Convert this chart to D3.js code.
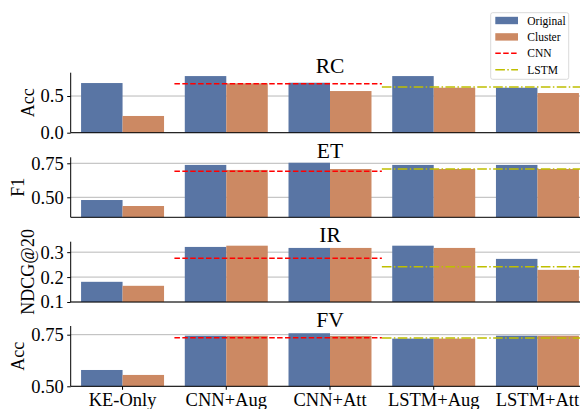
<!DOCTYPE html>
<html>
<head>
<meta charset="utf-8">
<script src="https://cdn.jsdelivr.net/npm/d3@7"></script>
<style>
  body { margin: 0; background: #fff; }
  svg { display: block; font-family: 'Liberation Serif', 'Times New Roman', serif; }
</style>
</head>
<body>
<div id="chart"></div>
<script>
/* global d3 */

const w = 580
const h = 409

const categories = ['KE-Only', 'CNN+Aug', 'CNN+Att', 'LSTM+Aug', 'LSTM+Att']
const seriesNames = ['Original', 'Cluster']
const baselineNames = ['CNN', 'LSTM']

const tasks = ['RC', 'ET', 'IR', 'FV']
const metrics = ['Acc', 'F1', 'NDCG@20', 'Acc']

const original = [
  [0.677, 0.772, 0.681, 0.772, 0.613],
  [0.480, 0.738, 0.754, 0.738, 0.738],
  [0.181, 0.321, 0.317, 0.326, 0.273],
  [0.579, 0.745, 0.757, 0.731, 0.745]
]
const cluster = [
  [0.228, 0.673, 0.568, 0.613, 0.541],
  [0.436, 0.701, 0.708, 0.708, 0.708],
  [0.165, 0.326, 0.317, 0.317, 0.229],
  [0.555, 0.745, 0.744, 0.731, 0.745]
]
const cnnBaseline = [0.668, 0.691, 0.276, 0.7355]
const lstmBaseline = [0.623, 0.708, 0.241, 0.734]

const yDomains = [[0, 0.818], [0.353, 0.794], [0.1, 0.342], [0.5, 0.792]]
const yTicks = [[0.0, 0.5], [0.50, 0.75], [0.1, 0.2, 0.3], [0.50, 0.75]]
const yFormats = ['.1f', '.2f', '.1f', '.2f']

const colors = ['#5975a4', '#cc8963']
const lineColors = ['#ff0000', '#bfbf00']
const lineDash = ['5.5,2.4', '9.6,2.4,1.5,2.4']

// panel layout (pixel tops / bottoms)
const panelTop = [72.7, 157.3, 241.7, 326]
const panelBottom = [132.7, 217.3, 302, 386.3]
const left = 70.7
const right = 589.3

const x = d3.scaleBand()
  .domain(categories)
  .range([left, right])
  .paddingInner(0.2)
  .paddingOuter(0.1)

const xSub = d3.scaleBand()
  .domain(seriesNames)
  .range([0, x.bandwidth()])

// continuous position for baselines (category index space)
const xPos = d3.scaleLinear()
  .domain([-0.5, categories.length - 0.5])
  .range([left, right])

const svg = d3.select('#chart').append('svg')
  .attr('width', w)
  .attr('height', h)

tasks.forEach((task, t) => {
  const y = d3.scaleLinear()
    .domain(yDomains[t])
    .range([panelBottom[t], panelTop[t]])

  const g = svg.append('g')

  // gridlines
  g.selectAll('line.grid')
    .data(yTicks[t])
    .enter().append('line')
    .attr('class', 'grid')
    .attr('x1', left)
    .attr('x2', right)
    .attr('y1', d => y(d))
    .attr('y2', d => y(d))
    .attr('stroke', '#b8b8b8')
    .attr('stroke-width', 1)

  // bars
  const rows = categories.map((c, i) => ({ c, vals: [original[t][i], cluster[t][i]] }))
  const groups = g.selectAll('g.grp')
    .data(rows)
    .enter().append('g')
    .attr('transform', d => `translate(${x(d.c)},0)`)

  groups.selectAll('rect')
    .data(d => d.vals.map((v, k) => ({ v, k })))
    .enter().append('rect')
    .attr('x', d => xSub(seriesNames[d.k]))
    .attr('width', xSub.bandwidth())
    .attr('y', d => y(d.v))
    .attr('height', d => y(yDomains[t][0]) - y(d.v))
    .attr('fill', d => colors[d.k])

  // baselines
  const baseSpans = [[0.5, 2.5], [2.5, 4.5]]
  const baseVals = [cnnBaseline[t], lstmBaseline[t]]
  baseSpans.forEach((span, b) => {
    g.append('line')
      .attr('x1', xPos(span[0]))
      .attr('x2', xPos(span[1]))
      .attr('y1', y(baseVals[b]))
      .attr('y2', y(baseVals[b]))
      .attr('stroke', lineColors[b])
      .attr('stroke-width', 1.5)
      .attr('stroke-dasharray', lineDash[b])
  })

  // y axis
  const yAxis = d3.axisLeft(y)
    .tickValues(yTicks[t])
    .tickFormat(d3.format(yFormats[t]))
    .tickSize(3.5)
    .tickPadding(3.5)

  const $yAxis = g.append('g')
    .attr('transform', `translate(${left},0)`)
    .call(yAxis)
  $yAxis.select('.domain')
    .attr('d', `M0,${panelTop[t]}V${panelBottom[t]}`)
    .attr('stroke', '#000')
    .attr('stroke-width', 1)
  $yAxis.selectAll('text')
    .attr('font-size', 18.5)
    .attr('font-family', 'Liberation Serif')
    .attr('fill', '#000')

  // bottom spine
  g.append('line')
    .attr('x1', left)
    .attr('x2', right)
    .attr('y1', panelBottom[t])
    .attr('y2', panelBottom[t])
    .attr('stroke', '#000')
    .attr('stroke-width', 1)

  // y label
  const bb = $yAxis.node().getBBox()
  const labelX = left + bb.x - 7
  g.append('text')
    .attr('transform', `translate(${labelX},${(panelTop[t] + panelBottom[t]) / 2}) rotate(-90)`)
    .attr('text-anchor', 'middle')
    .attr('font-size', 18)
    .text(metrics[t])

  // title
  g.append('text')
    .attr('x', (left + right) / 2)
    .attr('y', panelTop[t] + 0.5)
    .attr('text-anchor', 'middle')
    .attr('font-size', 21.5)
    .text(task)

  // x axis only on last panel
  if (t === tasks.length - 1) {
    const xAxis = d3.axisBottom(x)
      .tickSize(3.5)
      .tickPadding(3.5)
    const $xAxis = g.append('g')
      .attr('transform', `translate(0,${panelBottom[t]})`)
      .call(xAxis)
    $xAxis.select('.domain').remove()
    $xAxis.selectAll('text')
      .attr('font-size', 18.5)
      .attr('font-family', 'Liberation Serif')
      .attr('fill', '#000')
  }
})

// legend
const legend = svg.append('g')
  .attr('transform', 'translate(490.7,12.7)')

legend.append('rect')
  .attr('width', 78)
  .attr('height', 66.6)
  .attr('rx', 2)
  .attr('fill', '#fff')
  .attr('fill-opacity', 0.85)
  .attr('stroke', '#d0d0d0')
  .attr('stroke-width', 0.8)

const legendItems = seriesNames.concat(baselineNames)
legendItems.forEach((name, i) => {
  const cy = 7.8 + i * 16.4
  const item = legend.append('g').attr('transform', `translate(0,${cy})`)
  if (i < 2) {
    item.append('rect')
      .attr('x', 4.6)
      .attr('y', -3.7)
      .attr('width', 22.7)
      .attr('height', 7.4)
      .attr('fill', colors[i])
  } else {
    item.append('line')
      .attr('x1', 4.6)
      .attr('x2', 27.3)
      .attr('stroke', lineColors[i - 2])
      .attr('stroke-width', 1.5)
      .attr('stroke-dasharray', lineDash[i - 2])
  }
  item.append('text')
    .attr('x', 36.6)
    .attr('dy', '0.35em')
    .attr('font-size', 11.5)
    .text(name)
})
</script>
</body>
</html>
